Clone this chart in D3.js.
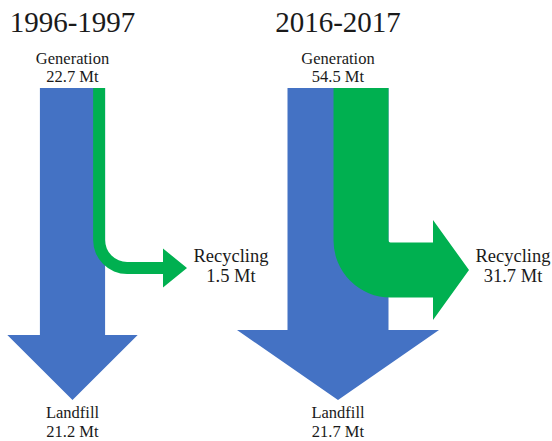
<!DOCTYPE html>
<html>
<head>
<meta charset="utf-8">
<script src="https://cdn.jsdelivr.net/npm/d3@7"></script>
<style>
  html, body { margin: 0; padding: 0; background: #fff; }
  svg { display: block; }
</style>
</head>
<body>
<svg id="chart" width="552" height="441"></svg>
<script>
// ---- data ----
const periods = ["1996-1997", "2016-2017"];
const generation = [22.7, 54.5];
const recycling = [1.5, 31.7];
const landfill = [21.2, 21.7];
const flowNames = ["Generation", "Recycling", "Landfill"];
const unit = "Mt";

// ---- layout (not data) ----
const serif = "Liberation Serif";
const colors = { landfill: "#4472C4", recycling: "#00B050" };
const layout = [
  { shaftBottom: 335, tipY: 400, recY: 268, headBaseX: 163, headHalf: 19.5, headLen: 24, rIn: 22 },
  { shaftBottom: 330, tipY: 400, recY: 270, headBaseX: 433, headHalf: 50, headLen: 36, rIn: 2 }
];
const barTop = 88;

const svg = d3.select("#chart");

const xPanel = d3.scalePoint().domain(periods).range([72.5, 338]);
const widthScale = d3.scaleSqrt().domain([0, d3.max(generation)]).range([0, 101]);
const recScale = d3.scaleSqrt().domain([0, d3.max(recycling)]).range([0, 55]);

function label(sel, x, y, size, lines, lh) {
  lines.forEach((s, k) => {
    sel.append("text").attr("x", x).attr("y", y + k * lh)
      .attr("text-anchor", "middle")
      .attr("font-family", serif).attr("font-size", size)
      .attr("fill", "#1a1a1a").text(s);
  });
}

periods.forEach((p, i) => {
  const L = layout[i];
  const cx = xPanel(p);
  const Wt = widthScale(generation[i]);
  const g = recScale(recycling[i]);
  const x0 = cx - Wt / 2, x1 = cx + Wt / 2;
  const gx0 = x1 - g, gx1 = x1;

  const panel = svg.append("g");

  // title
  panel.append("text").attr("x", cx).attr("y", 32)
    .attr("text-anchor", "middle").attr("font-family", serif)
    .attr("font-size", 29).attr("fill", "#1a1a1a").text(p);

  // generation label
  label(panel, cx, 64, 16.5, [flowNames[0], `${generation[i]} ${unit}`], 18);

  // landfill arrow (blue)
  const blue = d3.path();
  blue.moveTo(x0, barTop);
  blue.lineTo(x1, barTop);
  blue.lineTo(x1, L.shaftBottom);
  blue.lineTo(cx + Wt, L.shaftBottom);
  blue.lineTo(cx, L.tipY);
  blue.lineTo(cx - Wt, L.shaftBottom);
  blue.lineTo(x0, L.shaftBottom);
  blue.closePath();
  panel.append("path").attr("d", blue.toString()).attr("fill", colors.landfill);

  // recycling arrow (green)
  const yT = L.recY - g / 2, yB = L.recY + g / 2;
  const rIn = L.rIn, rOut = L.rIn + g;
  const gp = d3.path();
  gp.moveTo(gx0, barTop);
  gp.lineTo(gx1, barTop);
  gp.lineTo(gx1, yT - rIn);
  gp.arcTo(gx1, yT, gx1 + rIn, yT, rIn);
  gp.lineTo(L.headBaseX, yT);
  gp.lineTo(L.headBaseX, L.recY - L.headHalf);
  gp.lineTo(L.headBaseX + L.headLen, L.recY);
  gp.lineTo(L.headBaseX, L.recY + L.headHalf);
  gp.lineTo(L.headBaseX, yB);
  gp.lineTo(gx0 + rOut, yB);
  gp.arcTo(gx0, yB, gx0, yB - rOut, rOut);
  gp.closePath();
  panel.append("path").attr("d", gp.toString()).attr("fill", colors.recycling);

  // recycling label
  const rx = L.headBaseX + L.headLen + 44;
  label(panel, rx, 262, 18.5, [flowNames[1], `${recycling[i]} ${unit}`], 20);

  // landfill label
  label(panel, cx, 418, 16.5, [flowNames[2], `${landfill[i]} ${unit}`], 19);
});
</script>
</body>
</html>
